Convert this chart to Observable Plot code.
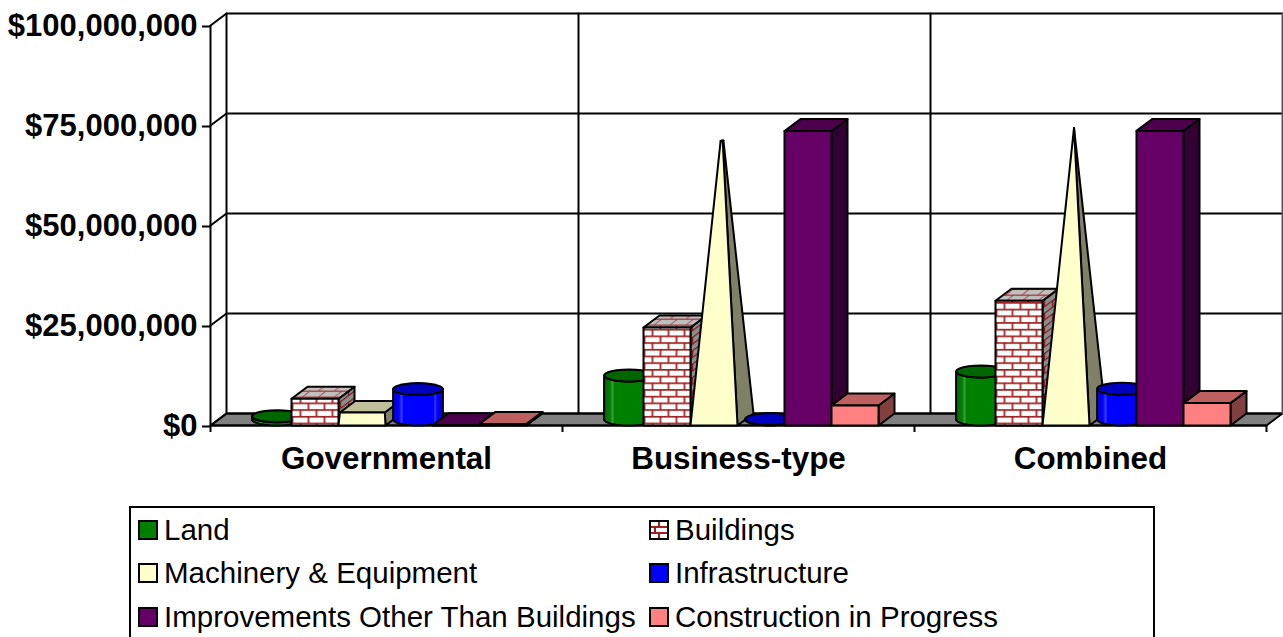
<!DOCTYPE html>
<html><head><meta charset="utf-8">
<script src="https://cdn.jsdelivr.net/npm/d3@7"></script>
<script src="https://cdn.jsdelivr.net/npm/@observablehq/plot@0.6"></script>
<style>
html,body{margin:0;padding:0;background:#fff;overflow:hidden;width:1283px;height:637px}
#legend{margin:16px 0 0 129px;width:1026px;height:135px;box-sizing:border-box;border:2px solid #000;
 display:grid;grid-template-columns:511px 1fr;grid-auto-rows:43.5px;padding-left:7px;font:29.5px "Liberation Sans",Arial,sans-serif;color:#000;align-items:center;white-space:nowrap}
#legend .it{display:flex;align-items:center;gap:6px}
#legend svg{display:block;flex:none}
</style></head><body>
<svg width="0" height="0" style="position:absolute">
<defs>
<pattern id="brickFront" patternUnits="userSpaceOnUse" width="16" height="13.4">
 <rect width="16" height="13.4" fill="#fff"/>
 <path d="M0 .8H16M0 7.5H16M4 .8V7.5M12 7.5V13.4" stroke="#a02020" stroke-width="1.7" fill="none"/>
</pattern>
<pattern id="brickSide" patternUnits="userSpaceOnUse" width="16" height="13.4" patternTransform="skewY(-37)">
 <rect width="16" height="13.4" fill="#8c8c8c"/>
 <path d="M0 .8H16M0 7.5H16M4 .8V7.5M12 7.5V13.4" stroke="#801818" stroke-width="1.5" fill="none"/>
</pattern>
<pattern id="brickTop" patternUnits="userSpaceOnUse" width="16" height="12" patternTransform="skewX(-53)">
 <rect width="16" height="12" fill="#c0c0c0"/>
 <path d="M0 .7H16M0 6.7H16M4 .7V6.7M12 6.7V12" stroke="#a04848" stroke-width="1.4" fill="none"/>
</pattern>
<pattern id="brickSwatch" patternUnits="userSpaceOnUse" width="20" height="20">
 <rect width="20" height="20" fill="#fff"/>
 <path d="M1 7H19M1 13H19M10 1V7M6 7V13M10 13V19" stroke="#a02020" stroke-width="2" fill="none"/>
</pattern>
<linearGradient id="cylGreen"><stop offset="0" stop-color="#006a00"/><stop offset=".12" stop-color="#008000"/><stop offset=".18" stop-color="#40a040"/><stop offset=".2" stop-color="#008000"/><stop offset=".82" stop-color="#008000"/><stop offset=".84" stop-color="#40a040"/><stop offset=".88" stop-color="#008000"/><stop offset="1" stop-color="#006a00"/></linearGradient>
<linearGradient id="cylBlue"><stop offset="0" stop-color="#0000d0"/><stop offset=".12" stop-color="#0000ff"/><stop offset=".18" stop-color="#4040ff"/><stop offset=".2" stop-color="#0000ff"/><stop offset=".82" stop-color="#0000ff"/><stop offset=".84" stop-color="#4040ff"/><stop offset=".88" stop-color="#0000ff"/><stop offset="1" stop-color="#0000d0"/></linearGradient>
</defs></svg>
<div id="chart"></div>
<div id="legend"></div>
<script>
// Data, in dollars
const categories = ["Governmental", "Business-type", "Combined"];
const land = [0.8e6, 11.0e6, 12.0e6];
const buildings = [6.7e6, 24.5e6, 31.2e6];
const machinery = [3.2e6, 69.7e6, 72.9e6];
const infrastructure = [7.6e6, 0.1e6, 7.7e6];
const improvements = [0.05e6, 73.6e6, 73.65e6];
const construction = [0.4e6, 5.0e6, 5.6e6];
const yTicks = [0, 25e6, 50e6, 75e6, 100e6];
const seriesNames = ["Land", "Buildings", "Machinery & Equipment", "Infrastructure", "Improvements Other Than Buildings", "Construction in Progress"];

// Projection constants, in data units of the x (category) and y (dollar) scales
const depthX = 16 / 352, depthY = 3e6, slot = 47 / 352, groupStart = 34 / 352;

const series = [
 {values: land, shape: "cyl", body: "url(#cylGreen)", top: "#006600"},
 {values: buildings, shape: "box", front: "url(#brickFront)", side: "url(#brickSide)", top: "url(#brickTop)"},
 {values: machinery, shape: "pyr", front: "#FFFFCC", side: "#808066", top: "#BFBF99"},
 {values: infrastructure, shape: "cyl", body: "url(#cylBlue)", top: "#0000BF"},
 {values: improvements, shape: "box", front: "#660066", side: "#330033", top: "#4C004C"},
 {values: construction, shape: "box", front: "#FF8080", side: "#804040", top: "#BF6060"}
];
const P = (x, y) => ({x, y});
const faces = [];
const face = (pts, fill) => faces.push({pts: [...pts, pts[0]], fill});

categories.forEach((_, c) => series.forEach((s, k) => {
  const v = s.values[c], L = c + groupStart + k * slot, R = L + slot;
  if (s.shape === "box") {
    face([P(R,0), P(R+depthX,depthY), P(R+depthX,v+depthY), P(R,v)], s.side);
    face([P(L,v), P(R,v), P(R+depthX,v+depthY), P(L+depthX,v+depthY)], s.top);
    face([P(L,0), P(R,0), P(R,v), P(L,v)], s.front);
  } else if (s.shape === "pyr") {
    const maxV = d3.max(s.values), t = v / maxV;
    const cx = L + slot/2 + depthX/2, cy = depthY/2;
    const at = (x, y) => P(cx + (x-cx)*(1-t), cy + (y-cy)*(1-t) + v);
    const FL = at(L,0), FR = at(R,0), BR = at(R+depthX,depthY), BL = at(L+depthX,depthY);
    face([P(R,0), P(R+depthX,depthY), BR, FR], s.side);
    face([FL, FR, BR, BL], s.top);
    face([P(L,0), P(R,0), FR, FL], s.front);
  } else {
    const a = slot * 0.53, cx = L + slot/2 + depthX/2 + 1/352, b = depthY/2;
    const arc = (base, from, to) => d3.range(0, 25).map(i => {
      const th = from + (to-from)*i/24;
      return P(cx + a*Math.cos(th), base + b*Math.sin(th));
    });
    const yb = depthY/2, yt = v + depthY/2;
    face([...arc(yb, Math.PI, 2*Math.PI), ...arc(yt, 2*Math.PI, Math.PI)], s.body);
    face(arc(yt, 0, 2*Math.PI), s.top);
  }
}));

const n = categories.length;
const floor = [P(0,0), P(depthX,depthY), P(n+depthX,depthY), P(n,0), P(0,0)];
const lineStyle = {x:"x", y:"y", stroke:"#000", strokeWidth:2};

const plot = Plot.plot({
  width: 1283, height: 490,
  marginLeft: 210, marginRight: 17, marginTop: 25, marginBottom: 65,
  x: {type:"linear", domain:[0,n]},
  y: {type:"linear", domain:[0,100e6]},
  style: {fontFamily:'"Liberation Sans",Arial,sans-serif', color:"#000", background:"#fff", overflow:"visible"},
  marks: [
    Plot.line(floor, {...lineStyle, fill:"#808080"}),
    ...yTicks.map(t => Plot.line([P(0,t), P(depthX,t+depthY), P(n+depthX,t+depthY)], lineStyle)),
    ...d3.range(n+1).map(i => Plot.line([P(i+depthX,depthY), P(i+depthX,100e6+depthY)], {...lineStyle, stroke: i===n ? "#555" : "#000"})),
    Plot.ruleX([0], {y1:0, y2:100e6, stroke:"#000", strokeWidth:2}),
    Plot.ruleY([0], {x1:0, x2:n, stroke:"#000", strokeWidth:2}),
    Plot.axisY({ticks:yTicks, label:null, tickSize:8, tickPadding:5, strokeWidth:2, stroke:"#000", dy:1,
      tickFormat: d => "$" + d3.format(",d")(d), fontSize:31, fontWeight:"bold", fill:"#000"}),
    Plot.axisX({ticks:d3.range(n+1), label:null, tickSize:7, strokeWidth:2, stroke:"#000", tickFormat: () => ""}),
    Plot.axisX({ticks:categories.map((_, i) => i+0.5), label:null, tickSize:0, tickPadding:21,
      tickFormat: d => categories[d-0.5], fontSize:31.4, fontWeight:"bold", fill:"#000"}),
    ...faces.map(f => Plot.line(f.pts, {...lineStyle, fill:f.fill}))
  ]
});
document.getElementById("chart").appendChild(plot);

const swatches = ["#008000","url(#brickSwatch)","#FFFFCC","#0000FF","#660066","#FF8080"];
const lg = d3.select("#legend");
seriesNames.forEach((name, i) => {
  const it = lg.append("div").attr("class","it");
  it.append("svg").attr("width",20).attr("height",20)
    .append("rect").attr("x",1).attr("y",1).attr("width",18).attr("height",18)
    .attr("fill",swatches[i]).attr("stroke","#000").attr("stroke-width",2);
  it.append("span").text(name);
});
</script>
</body></html>
